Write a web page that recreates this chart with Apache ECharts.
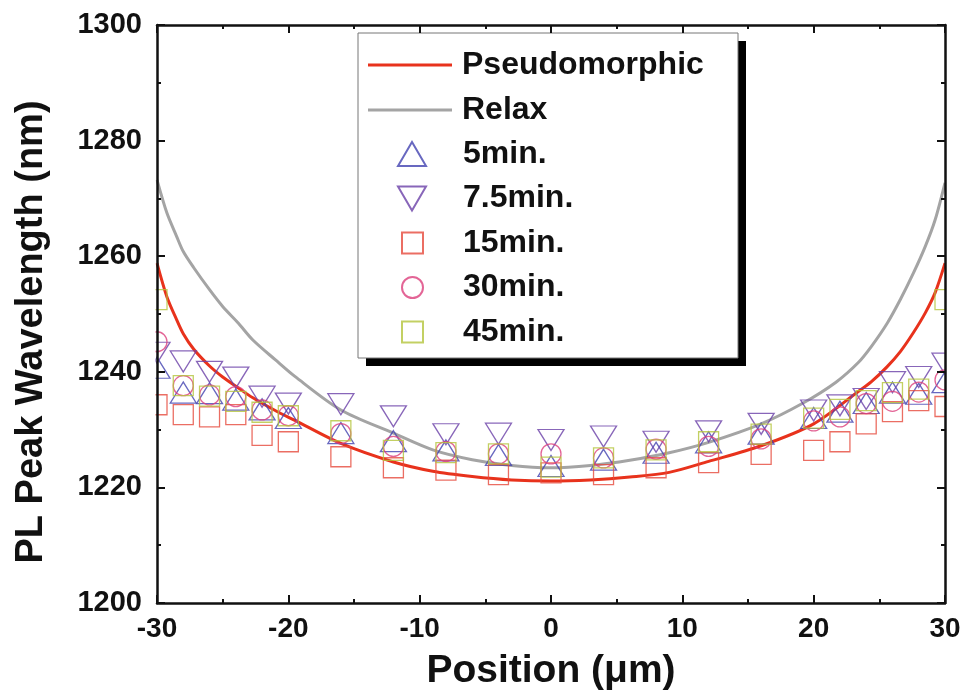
<!DOCTYPE html>
<html><head><meta charset="utf-8">
<script src="https://cdn.jsdelivr.net/npm/echarts@6/dist/echarts.min.js"></script>
<style>html,body{margin:0;padding:0;background:#fff}#c{width:969px;height:700px}</style>
</head><body><div id="c"></div>
<script>
// ---- data ----
const positions = [-30,-28,-26,-24,-22,-20,-16,-12,-8,-4,0,4,8,12,16,20,22,24,26,28,30];
const min5   = [1240.7,1236.4,1236.3,1235.2,1233.5,1232.0,1229.4,1228.0,1226.4,1225.6,1223.7,1224.8,1226.0,1227.8,1229.3,1232.0,1233.1,1234.6,1236.4,1236.2,1238.2];
const min7_5 = [1243.3,1241.8,1240.0,1239.0,1235.7,1234.5,1234.4,1232.3,1229.2,1229.3,1228.2,1228.8,1227.9,1229.7,1231.0,1233.3,1234.2,1235.3,1238.2,1239.1,1241.4];
const min15  = [1234.3,1232.6,1232.2,1232.6,1229.0,1227.9,1225.3,1223.4,1223.0,1222.2,1222.5,1222.2,1223.4,1224.3,1225.7,1226.4,1227.9,1231.0,1233.1,1235.0,1234.0];
const min30  = [1245.2,1237.6,1236.0,1235.7,1233.4,1232.4,1229.3,1227.1,1226.2,1225.8,1225.8,1225.1,1226.6,1227.1,1228.4,1231.5,1232.2,1234.5,1234.9,1236.5,1238.6];
const min45  = [1252.5,1237.6,1235.8,1234.9,1233.0,1232.4,1229.8,1226.4,1226.0,1225.8,1223.5,1225.1,1226.5,1227.9,1229.2,1232.0,1233.5,1235.0,1236.4,1237.0,1252.5];

const pseudoX = [-30,-29.25,-28.5,-28,-27.2,-26,-25,-24,-22.7,-21,-19.5,-16,-12,-9,-6,-3,0,3,6,9,12,16,20,23.4,24.4,25.6,26.6,27.6,28.5,29.25,30];
const pseudoY = [1258.8,1253.0,1249.0,1246.6,1243.9,1241.0,1239.1,1237.5,1235.5,1233.3,1231.6,1227.6,1224.4,1222.8,1221.9,1221.3,1221.1,1221.3,1221.8,1222.6,1224.5,1227.2,1231.0,1236.6,1238.3,1240.9,1243.5,1246.8,1250.2,1253.7,1258.8];
const relaxX  = [-30,-29.25,-28.5,-28,-27.2,-26,-25,-23.8,-22.7,-21,-19.5,-16,-12,-9,-6,-3,0,3,6,9,12,16,19.2,21.7,23.4,24.4,25.6,26.6,27.6,28.5,29.25,30];
const relaxY  = [1273.2,1267.5,1263.4,1260.8,1258.0,1254.2,1251.3,1248.4,1245.5,1242.1,1239.2,1233.4,1229.4,1226.5,1224.8,1223.8,1223.4,1223.8,1224.7,1226.0,1227.8,1231.0,1234.6,1238.2,1241.6,1244.4,1248.4,1252.5,1257.1,1261.7,1266.3,1272.7];

const lineNames = ['Pseudomorphic','Relax'];
const triangleNames = ['5min.','7.5min.'];
const boxNames = ['15min.','30min.','45min.'];
const xTitle = 'Position (\u03bcm)';
const yTitle = 'PL Peak Wavelength (nm)';

// ---- chart ----
const FONT = '"Liberation Sans", Arial, Helvetica, sans-serif';
const INK = '#111';
function pairs(xs, ys){ return xs.map((x,i)=>[x, ys[i]]); }
function markers(name, symbol, size, rotate, color, values){
  return {name, type:'scatter', symbol, symbolSize:size, symbolRotate:rotate,
    itemStyle:{color:'rgba(0,0,0,0)', borderColor:color, borderWidth:1.3},
    data:pairs(positions, values), z:3, silent:true};
}
function curve(name, xs, ys, color){
  return {name, type:'line', data:pairs(xs, ys), smooth:0.3, symbol:'none', showSymbol:false,
    lineStyle:{color, width:3}, itemStyle:{color}, z:2, silent:true};
}
const tickStyle = {show:true, inside:true, length:8, lineStyle:{width:2, color:INK}};
const minorStyle = {show:true, splitNumber:2, length:4, lineStyle:{width:2, color:INK}};
const lineStyleAx = {show:true, onZero:false, lineStyle:{color:INK, width:2.5}};
const labelStyle = {fontWeight:'bold', color:INK, fontFamily:FONT};
function legendText(pad){
  return {fontSize:32, fontWeight:'bold', fontFamily:FONT, color:INK, padding:[0,0,0,pad]};
}
const legendBase = {orient:'vertical', padding:0, selectedMode:false, z:6, backgroundColor:'rgba(0,0,0,0)'};

const chart = echarts.init(document.getElementById('c'));
chart.setOption({
  animation:false,
  backgroundColor:'#fff',
  grid:{left:157, right:24, top:25, bottom:97},
  xAxis:[
    {type:'value', min:-30, max:30, interval:10, position:'bottom', z:10,
     axisLine:lineStyleAx, axisTick:tickStyle, minorTick:minorStyle, splitLine:{show:false},
     axisLabel:Object.assign({fontSize:28, margin:12}, labelStyle),
     name:xTitle, nameLocation:'middle', nameGap:49,
     nameTextStyle:Object.assign({fontSize:39}, labelStyle)},
    {type:'value', min:-30, max:30, interval:10, position:'top', z:10,
     axisLine:lineStyleAx, axisTick:tickStyle, minorTick:minorStyle, splitLine:{show:false},
     axisLabel:{show:false}}
  ],
  yAxis:[
    {type:'value', min:1200, max:1300, interval:20, position:'left', z:10,
     axisLine:lineStyleAx, axisTick:tickStyle, minorTick:minorStyle, splitLine:{show:false},
     axisLabel:Object.assign({fontSize:29, margin:15, formatter:v=>String(v)}, labelStyle)},
    {type:'value', min:1200, max:1300, interval:20, position:'right', z:10,
     axisLine:lineStyleAx, axisTick:tickStyle, minorTick:minorStyle, splitLine:{show:false},
     axisLabel:{show:false}}
  ],
  legend:[
    Object.assign({}, legendBase, {left:368, top:49, itemWidth:84, itemHeight:3, itemGap:13,
      textStyle:legendText(5), data:lineNames.map(n=>({name:n, icon:'rect'}))}),
    Object.assign({}, legendBase, {left:397, top:138, itemWidth:28, itemHeight:24, itemGap:12.5,
      textStyle:legendText(32),
      data:[{name:triangleNames[0], icon:'path://M14,0L28,24L0,24Z'},
            {name:triangleNames[1], icon:'path://M0,0L28,0L14,24Z'}]}),
    Object.assign({}, legendBase, {left:401, top:227, itemWidth:21, itemHeight:21, itemGap:12.5,
      textStyle:legendText(35),
      data:[{name:boxNames[0], icon:'rect'},{name:boxNames[1], icon:'circle'},{name:boxNames[2], icon:'rect'}]})
  ],
  graphic:[
    {type:'rect', shape:{x:0, y:0, width:155.5, height:700}, style:{fill:'#fff'}, z:5, silent:true},
    {type:'rect', shape:{x:946, y:0, width:23, height:700}, style:{fill:'#fff'}, z:5, silent:true},
    {type:'rect', shape:{x:366, y:41, width:380, height:325}, style:{fill:'#000'}, z:5, silent:true},
    {type:'rect', shape:{x:358, y:33, width:380, height:325}, style:{fill:'#fff', stroke:'#777', lineWidth:1}, z:5.5, silent:true},
    {type:'text', x:32, y:332, rotation:Math.PI/2, z:11, silent:true,
     style:{text:yTitle, font:'bold 38px ' + FONT, fill:INK, align:'center', verticalAlign:'middle'}}
  ],
  series:[
    curve(lineNames[0], pseudoX, pseudoY, '#e8321c'),
    curve(lineNames[1], relaxX, relaxY, '#a4a4a4'),
    markers(triangleNames[0], 'triangle', [26,21], 0, '#4242b0', min5),
    markers(triangleNames[1], 'triangle', [26,21], 180, '#6a40a8', min7_5),
    markers(boxNames[0], 'rect', 20, 0, '#e64a3c', min15),
    markers(boxNames[1], 'circle', 20, 0, '#dc3f7c', min30),
    markers(boxNames[2], 'rect', 20, 0, '#b4c43c', min45)
  ]
});
</script>
</body></html>
